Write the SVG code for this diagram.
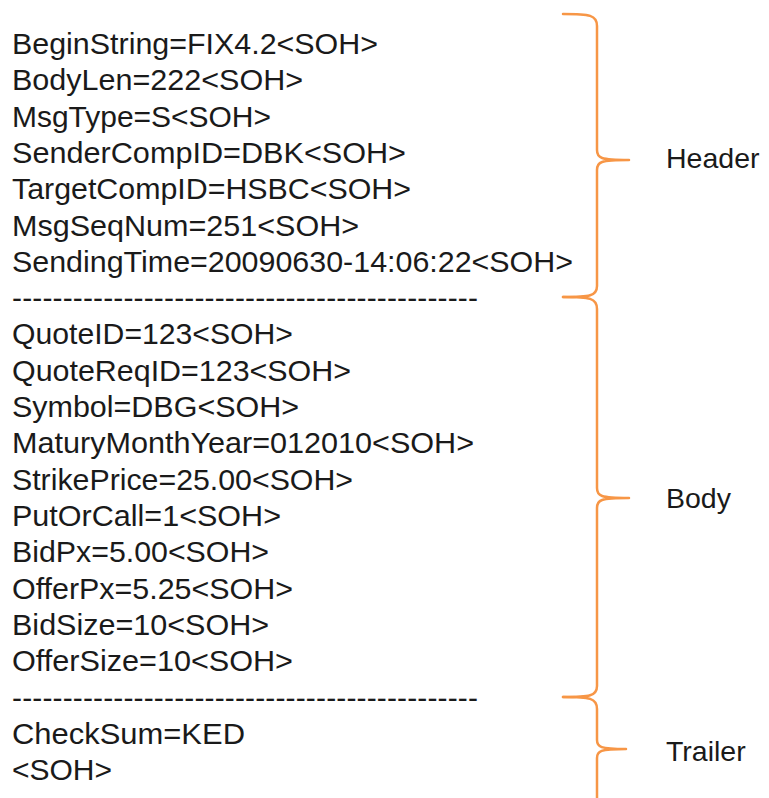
<svg xmlns="http://www.w3.org/2000/svg" width="769" height="798" viewBox="0 0 769 798">
<style>
.t{font-family:"Liberation Sans",Arial,sans-serif;font-size:30px;fill:#1a1a1a}
.l{font-family:"Liberation Sans",Arial,sans-serif;font-size:28.5px;fill:#1a1a1a}
.b{fill:none;stroke:#F79646;stroke-width:2.5;stroke-linecap:round;stroke-linejoin:round}
</style>
<rect width="769" height="798" fill="#ffffff"/>
<g id="message">
<text class="t" x="12" y="54" textLength="366" lengthAdjust="spacingAndGlyphs">BeginString=FIX4.2&lt;SOH&gt;</text>
<text class="t" x="12" y="90" textLength="291" lengthAdjust="spacingAndGlyphs">BodyLen=222&lt;SOH&gt;</text>
<text class="t" x="12" y="127" textLength="259" lengthAdjust="spacingAndGlyphs">MsgType=S&lt;SOH&gt;</text>
<text class="t" x="12" y="163" textLength="394" lengthAdjust="spacingAndGlyphs">SenderCompID=DBK&lt;SOH&gt;</text>
<text class="t" x="12" y="199" textLength="399" lengthAdjust="spacingAndGlyphs">TargetCompID=HSBC&lt;SOH&gt;</text>
<text class="t" x="12" y="236" textLength="347" lengthAdjust="spacingAndGlyphs">MsgSeqNum=251&lt;SOH&gt;</text>
<text class="t" x="12" y="272" textLength="561" lengthAdjust="spacingAndGlyphs">SendingTime=20090630-14:06:22&lt;SOH&gt;</text>
<text class="t" x="12" y="308" textLength="466" lengthAdjust="spacing">----------------------------------------------</text>
<text class="t" x="12" y="344" textLength="281" lengthAdjust="spacingAndGlyphs">QuoteID=123&lt;SOH&gt;</text>
<text class="t" x="12" y="381" textLength="339" lengthAdjust="spacingAndGlyphs">QuoteReqID=123&lt;SOH&gt;</text>
<text class="t" x="12" y="417" textLength="287" lengthAdjust="spacingAndGlyphs">Symbol=DBG&lt;SOH&gt;</text>
<text class="t" x="12" y="453" textLength="462" lengthAdjust="spacingAndGlyphs">MaturyMonthYear=012010&lt;SOH&gt;</text>
<text class="t" x="12" y="490" textLength="341" lengthAdjust="spacingAndGlyphs">StrikePrice=25.00&lt;SOH&gt;</text>
<text class="t" x="12" y="526" textLength="269" lengthAdjust="spacingAndGlyphs">PutOrCall=1&lt;SOH&gt;</text>
<text class="t" x="12" y="562" textLength="257" lengthAdjust="spacingAndGlyphs">BidPx=5.00&lt;SOH&gt;</text>
<text class="t" x="12" y="599" textLength="281" lengthAdjust="spacingAndGlyphs">OfferPx=5.25&lt;SOH&gt;</text>
<text class="t" x="12" y="635" textLength="257" lengthAdjust="spacingAndGlyphs">BidSize=10&lt;SOH&gt;</text>
<text class="t" x="12" y="671" textLength="281" lengthAdjust="spacingAndGlyphs">OfferSize=10&lt;SOH&gt;</text>
<text class="t" x="12" y="708" textLength="466" lengthAdjust="spacing">----------------------------------------------</text>
<text class="t" x="12" y="744" textLength="233" lengthAdjust="spacingAndGlyphs">CheckSum=KED</text>
<text class="t" x="12" y="780">&lt;SOH&gt;</text>
</g>
<g id="header">
<path class="b" d="M563,14 C590,14 597,15 597,26 L597,150 C597,158 600,160 629,160 M629,160 C600,160 597,162 597,170 L597,286 C597,296 590,297 563,297"/>
<text class="l" x="666" y="168">Header</text>
</g>
<g id="body">
<path class="b" d="M563,297 C590,297 597,298 597,309 L597,488 C597,496 600,498 629,498 M629,498 C600,498 597,500 597,508 L597,686 C597,696 590,697 563,697"/>
<text class="l" x="666" y="508">Body</text>
</g>
<g id="trailer">
<path class="b" d="M563,697 C590,697 597,698 597,709 L597,740 C597,747 600,749 626,749 M626,749 C600,749 597,751 597,758 L597,798"/>
<text class="l" x="666" y="761">Trailer</text>
</g>
</svg>
